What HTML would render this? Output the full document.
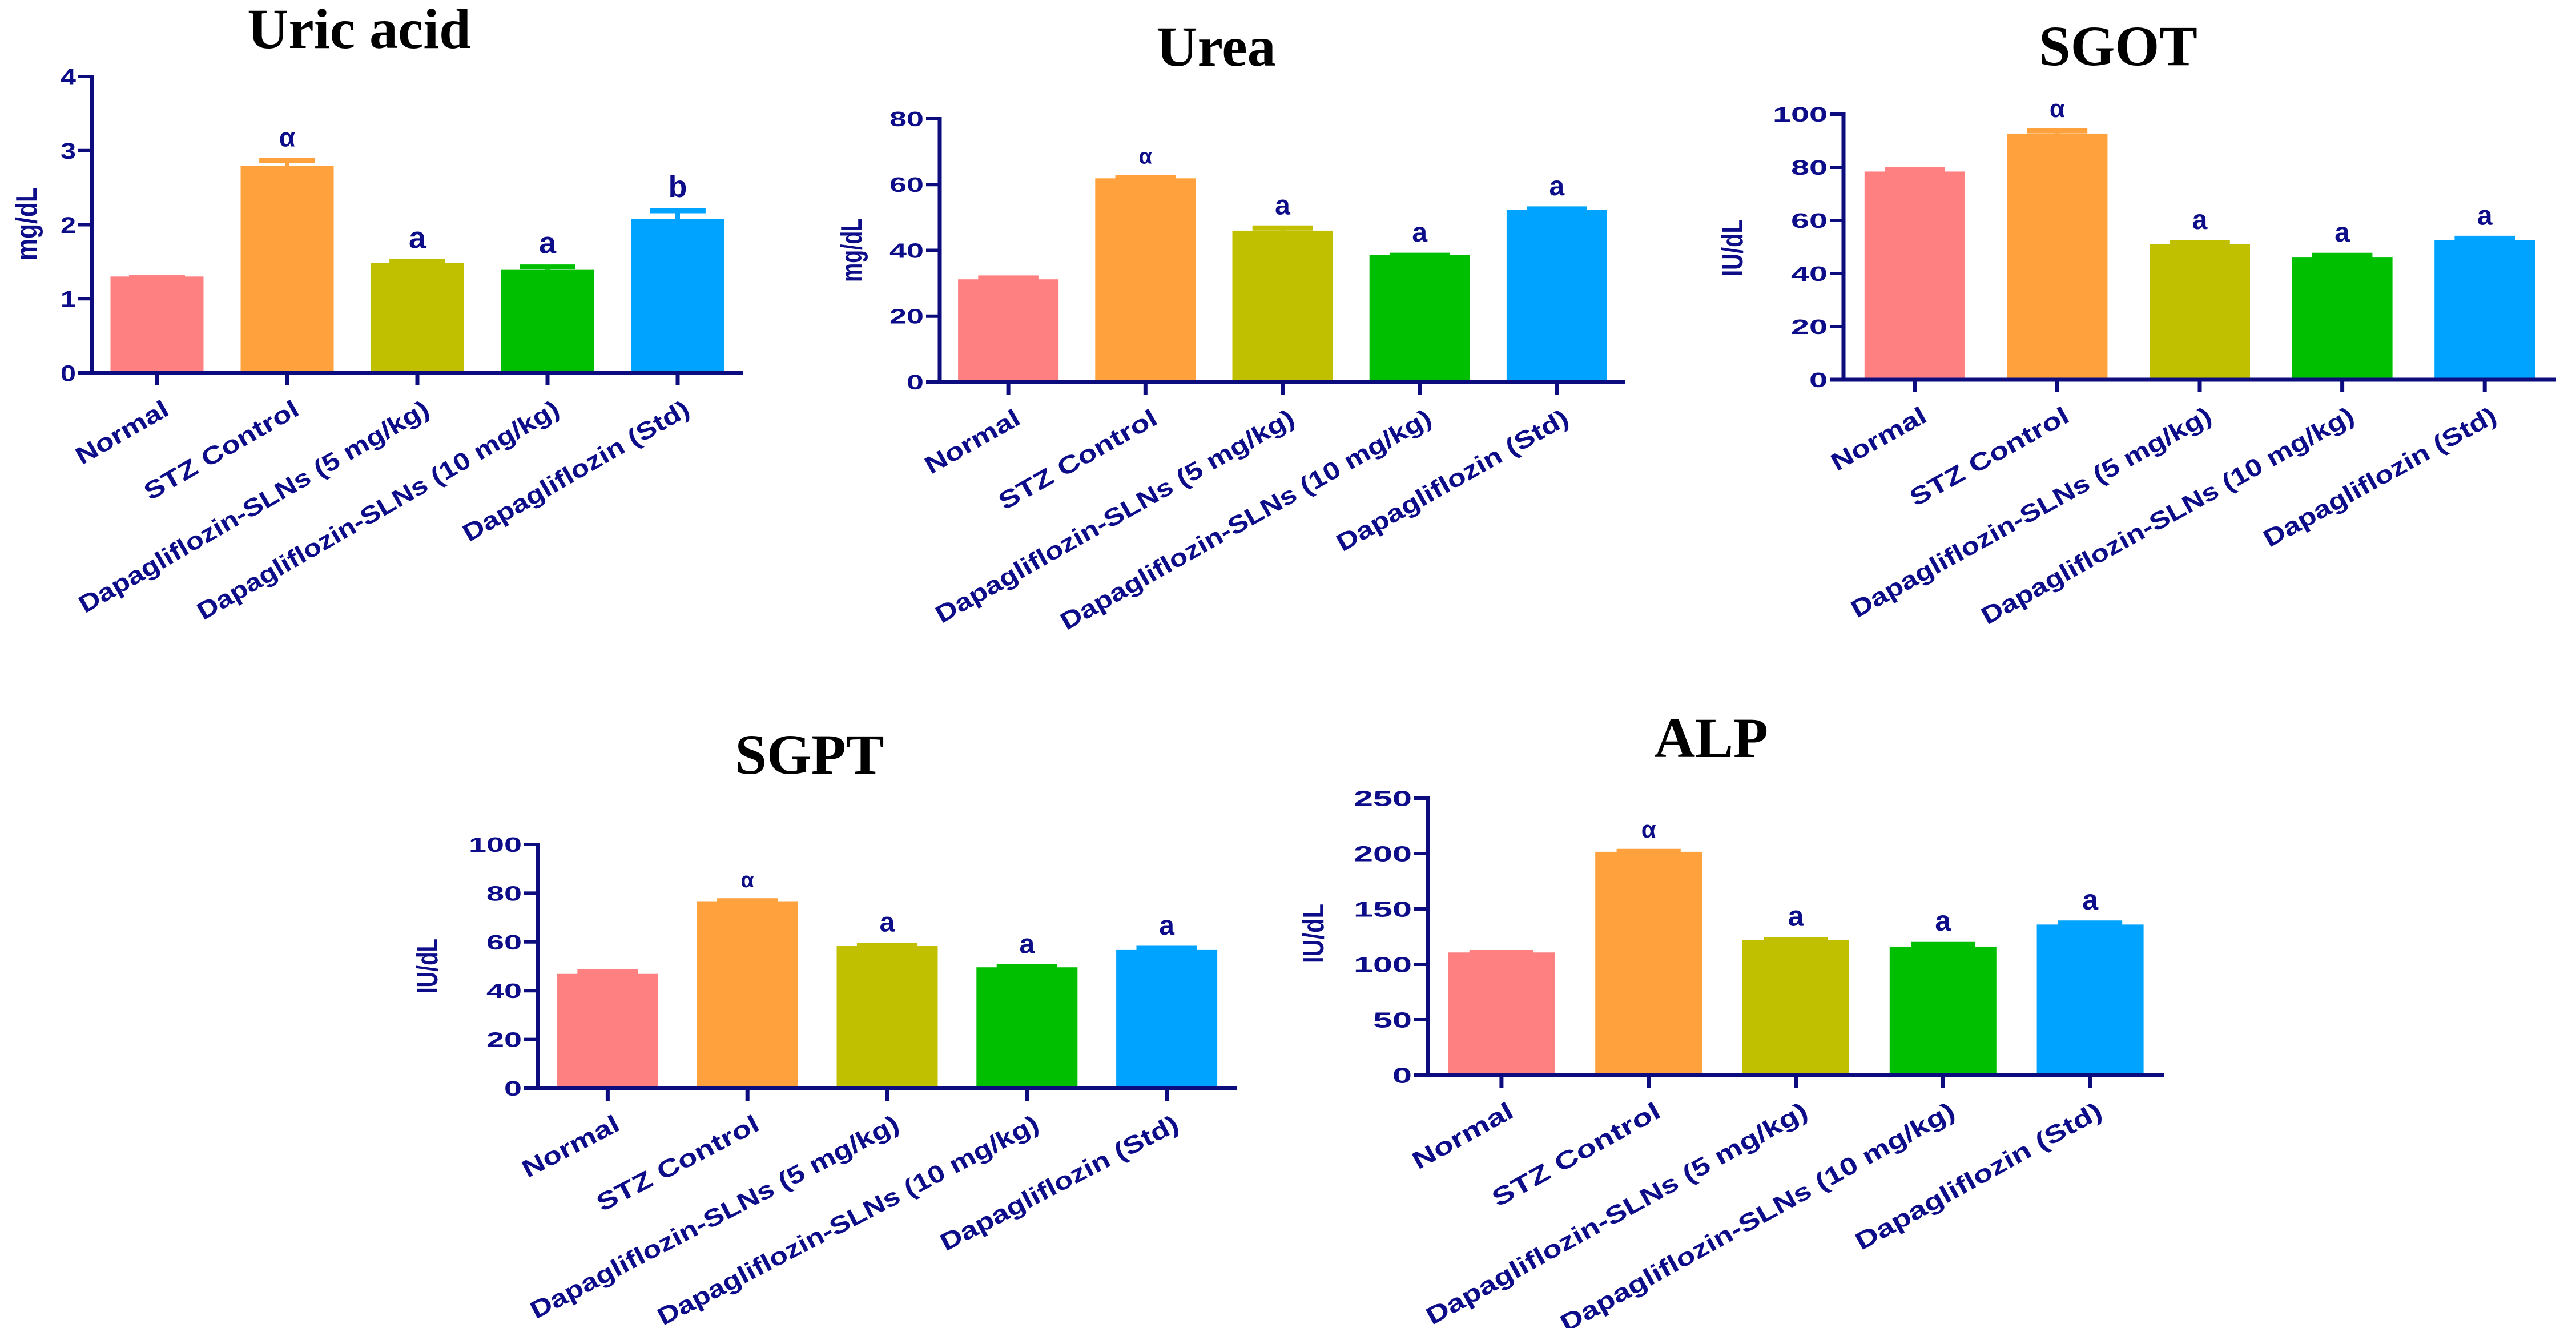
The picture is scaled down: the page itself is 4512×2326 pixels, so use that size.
<!DOCTYPE html>
<html>
<head>
<meta charset="utf-8">
<style>
  html,body{margin:0;padding:0;background:#fff;}
  svg{display:block;}
  .title{font-family:"Liberation Serif",serif;font-weight:bold;fill:#000;}
  .lbl{font-family:"Liberation Sans",sans-serif;font-weight:bold;fill:#0d0d8a;}
</style>
</head>
<body>
<svg id="fig" width="4512" height="2326" viewBox="0 0 4512 2326" xmlns="http://www.w3.org/2000/svg">
  <rect width="4512" height="2326" fill="#fff"/>
</svg>
<script>
// ---- data ----
const categories = ["Normal", "STZ Control", "Dapagliflozin-SLNs (5 mg/kg)", "Dapagliflozin-SLNs (10 mg/kg)", "Dapagliflozin (Std)"];
const barColors = ["#ff8080", "#ffa13c", "#c0c000", "#00bf00", "#00a3ff"];

const uricValues = [1.30, 2.79, 1.48, 1.39, 2.08];
const uricErrors = [0.02, 0.11, 0.05, 0.07, 0.14];
const uricLetters = ["", "α", "a", "a", "b"];
const uricTicks = [0, 1, 2, 3, 4];

const ureaValues = [31.2, 61.9, 46.0, 38.7, 52.3];
const ureaErrors = [1.1, 1.0, 1.5, 0.5, 1.0];
const ureaLetters = ["", "α", "a", "a", "a"];
const ureaTicks = [0, 20, 40, 60, 80];

const sgotValues = [78.4, 92.7, 51.0, 46.0, 52.5];
const sgotErrors = [1.5, 1.9, 1.5, 1.7, 1.6];
const sgotLetters = ["", "α", "a", "a", "a"];
const sgotTicks = [0, 20, 40, 60, 80, 100];

const sgptValues = [46.9, 76.7, 58.3, 49.6, 56.7];
const sgptErrors = [1.8, 1.1, 1.3, 1.1, 1.6];
const sgptLetters = ["", "α", "a", "a", "a"];
const sgptTicks = [0, 20, 40, 60, 80, 100];

const alpValues = [110.7, 201.6, 122.0, 116.0, 135.9];
const alpErrors = [1.9, 2.4, 2.5, 4.0, 3.4];
const alpLetters = ["", "α", "a", "a", "a"];
const alpTicks = [0, 50, 100, 150, 200, 250];

// ---- layout ----
const NS = "http://www.w3.org/2000/svg";
const svg = document.getElementById("fig");
const NAVY = "#0c0c7e";

function mk(tag, attrs, parent) {
  const e = document.createElementNS(NS, tag);
  for (const k in attrs) e.setAttribute(k, attrs[k]);
  (parent || svg).appendChild(e);
  return e;
}

function drawChart(cfg) {
  const g = mk("g", {});
  
  

  const n = cfg.values.length;
  const step = (cfg.xEnd - cfg.x0) / n;
  const xScale = i => cfg.x0 + step * (i + 0.5);
  const yMax = cfg.ticks[cfg.ticks.length - 1];
  const yScale = v => cfg.yZero - (v / yMax) * (cfg.yZero - cfg.yTop);

  const t = mk("text", {x: cfg.titleX, y: cfg.titleY, "text-anchor": "middle", class: "title", "font-size": 100}, g);
  t.textContent = cfg.title;
  
  

  for (let i = 0; i < n; i++) {
    const cx = xScale(i);
    const top = yScale(cfg.values[i]);
    const r = mk("rect", {x: cx - cfg.barW / 2, y: top, width: cfg.barW, height: cfg.yZero - top, fill: barColors[i]}, g);
    
    

    const eTop = yScale(cfg.values[i] + cfg.errors[i]);
    const el = mk("line", {x1: cx, x2: cx, y1: top, y2: eTop, stroke: barColors[i], "stroke-width": 8}, g);
    
    
    const cap = mk("line", {x1: cx - cfg.barW * 0.3, x2: cx + cfg.barW * 0.3, y1: eTop + 4, y2: eTop + 4, stroke: barColors[i], "stroke-width": 9}, g);
    
    

    if (cfg.letters[i]) {
      const isAlpha = cfg.letters[i] === "α";
      const lt = mk("text", {x: cx, y: eTop - 20, "text-anchor": "middle", class: "lbl",
        "font-size": isAlpha ? cfg.alphaSize : cfg.letterSize, "font-weight": isAlpha ? "normal" : "bold"}, g);
      lt.textContent = cfg.letters[i];
      
      
    }

    const xt = mk("line", {x1: cx, x2: cx, y1: cfg.yZero, y2: cfg.yZero + 22, stroke: NAVY, "stroke-width": 7}, g);
    
    

    const ax = cx + 24, ay = cfg.yZero + 72;
    const cl = mk("text", {x: 0, y: 0, "text-anchor": "end", class: "lbl", "font-size": 43,
      transform: "translate(" + ax + "," + ay + ") rotate(" + (-cfg.angle) + ")",
      textLength: cfg.labelLens[i] * cfg.labelScale, lengthAdjust: "spacingAndGlyphs"}, g);
    cl.textContent = categories[i];
    
    
  }

  for (let j = 0; j < cfg.ticks.length; j++) {
    const y = yScale(cfg.ticks[j]);
    const tk = mk("line", {x1: cfg.x0 - 24, x2: cfg.x0, y1: y, y2: y, stroke: NAVY, "stroke-width": 6}, g);
    
    
    const s = String(cfg.ticks[j]);
    const tl = mk("text", {x: cfg.x0 - 28, y: y + cfg.tickFont * 0.36, "text-anchor": "end", class: "lbl",
      "font-size": cfg.tickFont, textLength: s.length * cfg.tickCharW, lengthAdjust: "spacingAndGlyphs"}, g);
    tl.textContent = s;
    
    
  }

  const ya = mk("line", {x1: cfg.x0, x2: cfg.x0, y1: cfg.yTop - 3, y2: cfg.yZero + 3, stroke: NAVY, "stroke-width": 7}, g);
  
  
  const xa = mk("line", {x1: cfg.x0 - 24, x2: cfg.xEnd, y1: cfg.yZero, y2: cfg.yZero, stroke: NAVY, "stroke-width": 7}, g);
  
  

  const yt = mk("text", {x: 0, y: 0, "text-anchor": "middle", class: "lbl", "font-size": 52,
    transform: "translate(" + (cfg.yTitleX + 18) + "," + cfg.yTitleY + ") rotate(-90)",
    textLength: cfg.yTitleLen, lengthAdjust: "spacingAndGlyphs"}, g);
  yt.textContent = cfg.yTitle;
  
  
}

const labelLens = [180, 305, 700, 724, 450];

drawChart({key: "uric-acid", title: "Uric acid", titleX: 629, titleY: 84,
  values: uricValues, errors: uricErrors, letters: uricLetters, ticks: uricTicks,
  x0: 161, yTop: 134, yZero: 653, xEnd: 1301, barW: 163,
  tickFont: 40, tickCharW: 27, letterSize: 54, alphaSize: 46,
  angle: 30, labelLens: labelLens, labelScale: 1.0,
  yTitle: "mg/dL", yTitleX: 46, yTitleY: 392, yTitleLen: 128});

drawChart({key: "urea", title: "Urea", titleX: 2130, titleY: 115,
  values: ureaValues, errors: ureaErrors, letters: ureaLetters, ticks: ureaTicks,
  x0: 1646, yTop: 208, yZero: 669, xEnd: 2847, barW: 176,
  tickFont: 36, tickCharW: 30, letterSize: 48, alphaSize: 38,
  angle: 29.5, labelLens: labelLens, labelScale: 1.02,
  yTitle: "mg/dL", yTitleX: 1491, yTitleY: 438, yTitleLen: 112});

drawChart({key: "sgot", title: "SGOT", titleX: 3710, titleY: 114,
  values: sgotValues, errors: sgotErrors, letters: sgotLetters, ticks: sgotTicks,
  x0: 3229, yTop: 200, yZero: 665, xEnd: 4477, barW: 176,
  tickFont: 36, tickCharW: 32, letterSize: 48, alphaSize: 44,
  angle: 29, labelLens: labelLens, labelScale: 1.02,
  yTitle: "IU/dL", yTitleX: 3034, yTitleY: 434, yTitleLen: 100});

drawChart({key: "sgpt", title: "SGPT", titleX: 1418, titleY: 1355,
  values: sgptValues, errors: sgptErrors, letters: sgptLetters, ticks: sgptTicks,
  x0: 942, yTop: 1479, yZero: 1906, xEnd: 2166, barW: 177,
  tickFont: 36, tickCharW: 31, letterSize: 48, alphaSize: 38,
  angle: 27.5, labelLens: labelLens, labelScale: 1.03,
  yTitle: "IU/dL", yTitleX: 748, yTitleY: 1692, yTitleLen: 96});

drawChart({key: "alp", title: "ALP", titleX: 2997, titleY: 1326,
  values: alpValues, errors: alpErrors, letters: alpLetters, ticks: alpTicks,
  x0: 2501, yTop: 1398, yZero: 1883, xEnd: 3790, barW: 187,
  tickFont: 38, tickCharW: 34, letterSize: 50, alphaSize: 42,
  angle: 29, labelLens: labelLens, labelScale: 1.08,
  yTitle: "IU/dL", yTitleX: 2300, yTitleY: 1635, yTitleLen: 104});
</script>
</body>
</html>
